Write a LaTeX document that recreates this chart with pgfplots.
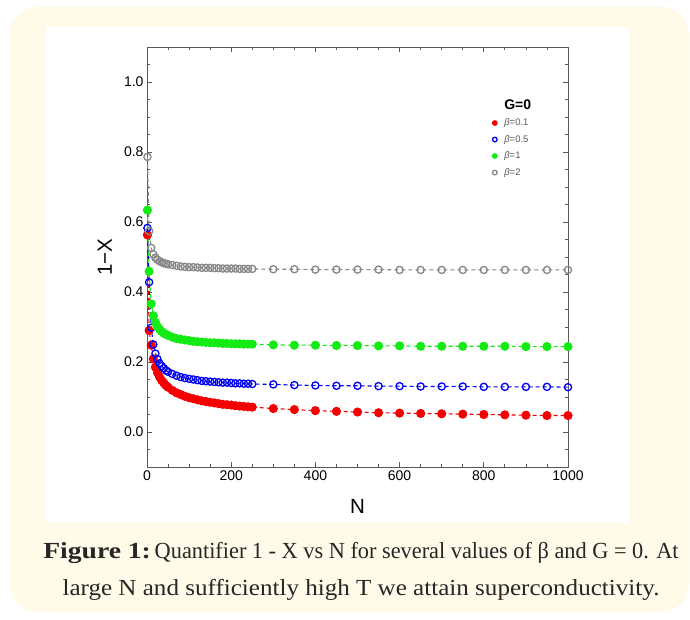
\documentclass[border=0pt]{standalone}
\usepackage{fontspec}
\setmainfont{Liberation Sans}
\newfontfamily\capfont{Liberation Serif}
\usepackage{pgfplots}
\pgfplotsset{compat=1.18}
\usepackage{pgfplotstable}

\definecolor{bgyellow}{RGB}{255,251,232}
\definecolor{cred}{RGB}{245,0,0}
\definecolor{cblue}{RGB}{0,0,245}
\definecolor{cgreen}{RGB}{20,235,20}
\definecolor{cgray}{RGB}{135,135,135}

% N, 1-X for beta = 0.1, 0.5, 1, 2 (G=0)
\pgfplotstableread{
N    b01   b05   b1    b2
1    0.563 0.583 0.634 0.786
5    0.290 0.428 0.459 0.574
10   0.248 0.298 0.366 0.526
15   0.209 0.250 0.332 0.508
20   0.185 0.224 0.313 0.498
25   0.169 0.208 0.301 0.492
30   0.157 0.196 0.293 0.488
35   0.147 0.188 0.287 0.485
40   0.140 0.182 0.282 0.482
45   0.133 0.176 0.279 0.481
50   0.128 0.172 0.276 0.479
60   0.119 0.166 0.271 0.477
70   0.112 0.161 0.267 0.475
80   0.107 0.157 0.265 0.473
90   0.102 0.154 0.263 0.472
100  0.098 0.152 0.261 0.471
110  0.095 0.150 0.259 0.471
120  0.092 0.148 0.258 0.470
130  0.089 0.146 0.257 0.469
140  0.087 0.145 0.256 0.469
150  0.085 0.144 0.255 0.469
160  0.083 0.143 0.255 0.468
170  0.081 0.142 0.254 0.468
180  0.079 0.141 0.253 0.467
190  0.078 0.141 0.253 0.467
200  0.077 0.140 0.252 0.467
210  0.075 0.139 0.252 0.467
220  0.074 0.139 0.252 0.466
230  0.073 0.138 0.251 0.466
240  0.072 0.138 0.251 0.466
250  0.071 0.137 0.251 0.466
300  0.067 0.136 0.249 0.465
350  0.064 0.134 0.248 0.465
400  0.061 0.133 0.248 0.464
450  0.059 0.132 0.247 0.464
500  0.057 0.132 0.247 0.464
550  0.055 0.131 0.246 0.464
600  0.054 0.131 0.246 0.463
650  0.053 0.130 0.245 0.463
700  0.052 0.130 0.245 0.463
750  0.051 0.130 0.245 0.463
800  0.050 0.129 0.245 0.463
850  0.049 0.129 0.245 0.463
900  0.048 0.129 0.244 0.463
950  0.047 0.129 0.244 0.463
1000 0.047 0.128 0.244 0.463
}\datatable

\begin{document}
\begin{tikzpicture}[x=1pt,y=1pt]
\path[use as bounding box] (0pt,0pt) rectangle (690pt,620pt);
\fill[bgyellow, rounded corners=28pt] (10pt,8pt) rectangle (689pt,613pt);
\fill[white] (46pt,97pt) rectangle (629pt,593pt);

\begin{axis}[
    at={(147pt,153pt)}, anchor=south west,
    width=421pt, height=420pt, scale only axis,
    xmin=0, xmax=1000, ymin=-0.1, ymax=1.1,
    xtick={0,200,...,1000},
    ytick={0,0.2,...,1.0},
    minor xtick={0,50,...,1000},
    minor ytick={-0.1,-0.05,...,1.1},
    tick align=inside,
    major tick length=5pt, minor tick length=3pt,
    axis line style={black!65, line width=0.9pt},
    every tick/.style={black!65, line width=0.8pt},
    /pgf/number format/assume math mode=true,
    ticklabel style={font=\fontsize{14}{16}\selectfont},
    yticklabel style={/pgf/number format/.cd, fixed, fixed zerofill, precision=1},
    xticklabel style={/pgf/number format/.cd, fixed, 1000 sep={}},
    xlabel={N}, ylabel={1−X},
    label style={font=\fontsize{20.5}{22}\selectfont},
    xlabel style={at={(axis description cs:0.5,-0.095)}, anchor=center},
    ylabel style={at={(axis description cs:-0.1,0.5)}, anchor=center},
    legend style={at={(axis cs:805,0.962)}, anchor=north west, draw=none, fill=none,
        font=\fontsize{9.5}{11}\selectfont, text=black!65, row sep=4.1pt},
    legend cell align=left,
    legend image code/.code={\draw[#1, mark size=2.3pt] plot coordinates {(0.2cm,0cm)};
        \path[draw=none] (0.2cm,0cm) -- ++(7.5pt,0pt);},
]
\addlegendimage{empty legend}
\addlegendentry{\color{black}\fontsize{14}{14}\selectfont\bfseries G=0}

\addplot[cred, line width=1.1pt, dash pattern=on 4pt off 3pt,
    mark=*, mark size=4pt, mark options={solid, fill=cred, draw=cred}]
    table[x=N, y=b01] {\datatable};
\addlegendentry{\textit{β}=0.1}

\addplot[cblue, line width=1.1pt, dash pattern=on 4pt off 3pt,
    mark=o, mark size=3.6pt, mark options={solid, line width=1.3pt}]
    table[x=N, y=b05] {\datatable};
\addlegendentry{\textit{β}=0.5}

\addplot[cgreen, line width=1.1pt, dash pattern=on 4pt off 3pt,
    mark=*, mark size=4pt, mark options={solid, fill=cgreen, draw=cgreen}]
    table[x=N, y=b1] {\datatable};
\addlegendentry{\textit{β}=1}

\addplot[cgray, line width=1.1pt, dash pattern=on 4pt off 3pt,
    mark=o, mark size=3.6pt, mark options={solid, line width=1.3pt}]
    table[x=N, y=b2] {\datatable};
\addlegendentry{\textit{β}=2}
\end{axis}

\node[font=\capfont\fontsize{23}{37}\selectfont, align=center, text=black!85]
    at (361pt,48.5pt) {\scalebox{1.2}[1]{\textbf{Figure 1:}}\,\scalebox{0.97}[1]{Quantifier 1 - X vs N for several values of β and G = 0. At}\\
    \scalebox{1.09}[1]{large N and sufficiently high T we attain superconductivity.}};
\end{tikzpicture}
\end{document}
